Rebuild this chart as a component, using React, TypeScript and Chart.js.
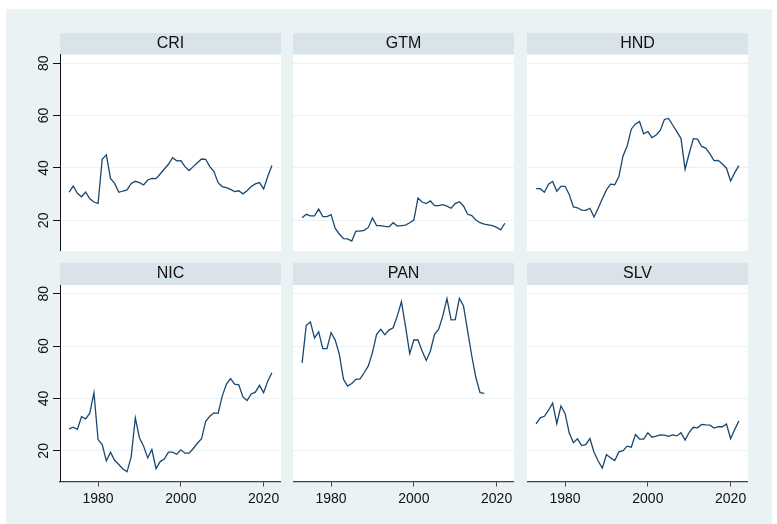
import React, { useEffect, useRef } from 'react';
import { Chart, registerables } from 'chart.js';

Chart.register(...registerables);

const years = [
  1973, 1974, 1975, 1976, 1977, 1978, 1979, 1980, 1981, 1982,
  1983, 1984, 1985, 1986, 1987, 1988, 1989, 1990, 1991, 1992,
  1993, 1994, 1995, 1996, 1997, 1998, 1999, 2000, 2001, 2002,
  2003, 2004, 2005, 2006, 2007, 2008, 2009, 2010, 2011, 2012,
  2013, 2014, 2015, 2016, 2017, 2018, 2019, 2020, 2021, 2022,
];

const CRI = [
  30.8, 33.1, 30.3, 29.0, 30.8, 28.2, 27.0, 26.5, 43.3, 45.0,
  36.0, 34.1, 30.7, 31.2, 31.6, 34.1, 34.9, 34.4, 33.5, 35.4,
  36.0, 35.9, 37.7, 39.6, 41.4, 43.9, 42.7, 42.8, 40.5, 39.0,
  40.5, 42.0, 43.4, 43.3, 40.5, 38.6, 34.4, 32.9, 32.5, 31.8,
  31.0, 31.3, 30.1, 31.3, 32.9, 33.9, 34.4, 32.0, 36.7, 40.9,
];

const GTM = [
  21.0, 22.3, 21.7, 21.7, 24.3, 21.4, 21.4, 22.2, 16.9, 14.8,
  13.0, 12.9, 12.1, 15.9, 15.9, 16.2, 17.3, 20.9, 18.0, 18.0,
  17.7, 17.5, 19.1, 17.8, 18.0, 18.2, 19.1, 20.1, 28.5, 27.0,
  26.4, 27.4, 25.6, 25.6, 26.0, 25.4, 24.6, 26.4, 27.1, 25.5,
  22.3, 21.8, 20.1, 19.1, 18.6, 18.3, 18.0, 17.3, 16.4, 18.9,
];

const HND = [
  32.1, 32.1, 30.7, 33.8, 34.8, 31.1, 33.0, 33.0, 29.9, 25.1,
  24.8, 23.9, 23.8, 24.6, 21.3, 24.6, 28.2, 31.6, 33.8, 33.6,
  36.7, 44.6, 48.4, 54.8, 56.8, 57.7, 53.0, 53.9, 51.6, 52.6,
  54.3, 58.5, 58.9, 56.4, 53.9, 51.3, 39.5, 45.6, 51.2, 51.0,
  48.2, 47.6, 45.4, 42.8, 42.9, 41.5, 39.9, 35.0, 38.2, 40.9,
];

const NIC = [
  28.4, 29.0, 28.2, 33.0, 32.2, 34.4, 42.2, 24.3, 22.4, 16.2,
  19.5, 16.4, 14.8, 13.1, 12.0, 17.7, 32.6, 25.0, 21.8, 17.3,
  20.5, 13.2, 15.9, 16.9, 19.5, 19.5, 18.7, 20.4, 19.1, 19.1,
  20.9, 22.9, 24.6, 31.3, 33.2, 34.5, 34.3, 40.9, 45.4, 47.6,
  45.5, 45.2, 40.6, 39.2, 41.7, 42.4, 45.0, 42.2, 46.6, 49.8,
];

const PAN = [
  53.6, 67.9, 69.2, 63.1, 65.4, 59.0, 59.0, 65.1, 62.3, 56.8,
  47.3, 44.7, 45.7, 47.3, 47.5, 49.8, 52.4, 57.5, 64.5, 66.4,
  64.3, 66.1, 67.0, 71.5, 76.9, 67.4, 57.1, 62.3, 62.3, 58.1,
  54.5, 58.1, 64.5, 66.4, 71.5, 78.1, 70.0, 70.1, 78.2, 75.3,
  65.7, 56.2, 47.9, 42.2, 41.9,
];

const SLV = [
  30.3, 32.6, 33.2, 35.5, 38.2, 30.4, 37.1, 34.3, 26.9, 23.1,
  24.6, 22.0, 22.4, 24.7, 19.5, 16.1, 13.4, 18.6, 17.3, 16.3,
  19.6, 20.1, 21.8, 21.4, 26.2, 24.5, 24.5, 26.9, 25.2, 25.6,
  26.1, 26.0, 25.5, 26.1, 25.7, 26.9, 24.1, 27.1, 29.0, 28.8,
  30.1, 29.9, 29.8, 28.7, 29.2, 29.2, 30.2, 24.6, 28.2, 31.4,
];

const panelNames = ['CRI', 'GTM', 'HND', 'NIC', 'PAN', 'SLV'];
const panelValues = [CRI, GTM, HND, NIC, PAN, SLV];
const xTicks = [1980, 2000, 2020];
const yTicks = [20, 40, 60, 80];

const FONT = '"Liberation Sans", Arial, Helvetica, sans-serif';
const BG = '#eaf2f3';
const HEADER_BG = '#d8e4e9';
const LINE = '#1a476f';

const COL_LEFT = [60, 293, 527];
const PLOT_W = 221;
const ROW_TOP = [33, 263];
const HEADER_H = [21.5, 22];
const PLOT_H = 196.5;
const Y_AXIS_W = 40;
const X_AXIS_H = 30.5;

const headerPlugin = {
  id: 'panelHeader',
  beforeDraw(chart: any, _args: any, opts: any) {
    const { ctx, chartArea } = chart;
    ctx.save();
    ctx.fillStyle = '#ffffff';
    ctx.fillRect(chartArea.left, chartArea.top, chartArea.right - chartArea.left, chartArea.bottom - chartArea.top);
    ctx.fillStyle = HEADER_BG;
    ctx.fillRect(chartArea.left, 0, chartArea.right - chartArea.left, chartArea.top);
    ctx.fillStyle = '#111';
    ctx.font = `16px ${FONT}`;
    ctx.textAlign = 'center';
    ctx.textBaseline = 'middle';
    ctx.fillText(opts.text, (chartArea.left + chartArea.right) / 2, chartArea.top / 2);
    ctx.restore();
  },
};

function Panel({ index }: { index: number }) {
  const ref = useRef<HTMLCanvasElement>(null);
  const row = Math.floor(index / 3);
  const col = index % 3;
  const leftW = col === 0 ? Y_AXIS_W : 0;
  const bottomH = row === 1 ? X_AXIS_H : 0;
  const width = leftW + PLOT_W;
  const height = HEADER_H[row] + PLOT_H + bottomH;
  const left = COL_LEFT[col] - leftW;
  const top = ROW_TOP[row];

  useEffect(() => {
    const canvas = ref.current;
    if (!canvas) return;
    const values = panelValues[index];
    const points = values.map((v, i) => ({ x: years[i], y: v }));
    const chart = new Chart(canvas, {
      type: 'line',
      data: {
        datasets: [
          {
            data: points,
            borderColor: LINE,
            borderWidth: 1.3,
            pointRadius: 0,
            tension: 0,
            fill: false,
          },
        ],
      },
      plugins: [headerPlugin],
      options: {
        animation: false,
        responsive: false,
        devicePixelRatio: 1,
        layout: { padding: { top: HEADER_H[row], left: 0, right: 0, bottom: 0 } },
        plugins: {
          legend: { display: false },
          tooltip: { enabled: false },
          title: { display: false },
          panelHeader: { text: panelNames[index] },
        } as any,
        scales: {
          x: {
            type: 'linear',
            min: 1970.8,
            max: 2024.2,
            display: row === 1,
            afterBuildTicks: (s: any) => {
              s.ticks = xTicks.map((v) => ({ value: v }));
            },
            afterFit: (s: any) => {
              s.height = bottomH;
              s.paddingLeft = 0;
              s.paddingRight = 0;
            },
            grid: {
              display: true,
              drawOnChartArea: false,
              drawTicks: true,
              tickLength: 5,
              tickColor: '#444',
              tickWidth: 1,
            },
            border: { display: true, color: '#444', width: 1.2 },
            ticks: {
              autoSkip: false,
              maxRotation: 0,
              minRotation: 0,
              padding: 4,
              color: '#111',
              font: { family: FONT, size: 14 },
              callback: (v: any) => String(v),
            },
          },
          y: {
            type: 'linear',
            min: 8.3,
            max: 83.3,
            afterBuildTicks: (s: any) => {
              s.ticks = yTicks.map((v) => ({ value: v }));
            },
            afterFit: (s: any) => {
              s.width = leftW;
              s.paddingTop = 0;
              s.paddingBottom = 0;
            },
            grid: {
              display: true,
              color: BG,
              lineWidth: 1,
              drawTicks: col === 0,
              tickLength: 7,
              tickColor: '#111',
              tickWidth: 1,
            },
            border: { display: col === 0, color: '#111', width: 1 },
            ticks: {
              display: col === 0,
              minRotation: 90,
              maxRotation: 90,
              crossAlign: 'center',
              padding: 1.5,
              color: '#111',
              font: { family: FONT, size: 14 },
              callback: (v: any) => String(v),
            },
          },
        },
      },
    });
    return () => chart.destroy();
  }, [index]);

  return (
    <canvas
      ref={ref}
      width={width}
      height={height}
      style={{ position: 'absolute', left, top, width, height, display: 'block' }}
    />
  );
}

export default function App() {
  return (
    <div
      style={{
        position: 'absolute',
        left: 0,
        top: 0,
        width: 777,
        height: 524,
        background: '#ffffff',
        overflow: 'hidden',
      }}
    >
      <div style={{ position: 'absolute', left: 6, top: 9, width: 766, height: 515, background: BG }} />
      {panelNames.map((_, i) => (
        <Panel key={i} index={i} />
      ))}
    </div>
  );
}
